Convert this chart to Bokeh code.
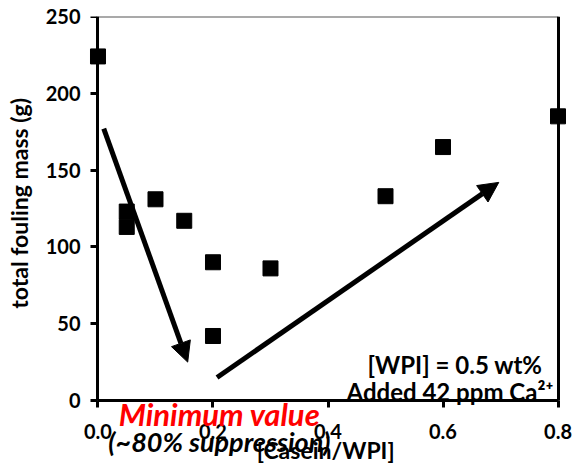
from bokeh.plotting import figure
from bokeh.models import (ColumnDataSource, Arrow, NormalHead, Label, LinearAxis,
                          FixedTicker, Range1d)
from bokeh.embed import file_html
from bokeh.resources import INLINE

# Data
ratio = [0.0, 0.05, 0.05, 0.1, 0.15, 0.2, 0.2, 0.3, 0.5, 0.6, 0.8]
mass = [224, 123, 113, 131, 117, 90, 42, 86, 133, 165, 185]

x_ticks = [0.0, 0.2, 0.4, 0.6, 0.8]
x_tick_labels = ["0.0", "0.2", "0.4", "0.6", "0.8"]
y_ticks = [0, 50, 100, 150, 200, 250]

# arrows: (x_start, y_start, x_end, y_end)
arrow_down = (0.01, 177, 0.156, 25)
arrow_up = (0.207, 15, 0.697, 142)

FONT = "Lato"
X0, X1 = 0.0, 0.8
Y0, Y1 = 0, 250
X_LEFT, X_RIGHT = -0.0252, 0.8252   # room for the end tick labels
Y_BELOW = -44.27                     # room under the x axis for the annotations

p = figure(width=572, height=468, output_backend="svg", toolbar_location=None,
           x_range=Range1d(X_LEFT, X_RIGHT), y_range=Range1d(Y_BELOW, Y1),
           x_axis_location=None, y_axis_location=None,
           min_border_left=83, min_border_right=0, min_border_top=16, min_border_bottom=0)
p.outline_line_color = None
p.grid.visible = False
p.background_fill_color = "white"
p.border_fill_color = "white"

src = ColumnDataSource(dict(x=ratio, y=mass))
p.scatter("x", "y", source=src, marker="square", size=15, fill_color="black",
          line_color="black")

def style(ax):
    ax.axis_line_width = 3
    ax.axis_line_color = "black"
    ax.major_tick_line_width = 3
    ax.major_tick_line_color = "black"
    ax.minor_tick_line_color = None
    ax.major_label_text_font = FONT
    ax.major_label_text_font_style = "bold"
    ax.major_label_text_font_size = "20px"
    ax.major_label_text_color = "black"
    ax.axis_label_text_font = FONT
    ax.axis_label_text_font_style = "bold"
    ax.axis_label_text_color = "black"

def bare(ax):
    ax.major_label_text_font_size = "0px"
    ax.major_label_text_color = None
    ax.major_label_standoff = 0
    ax.major_tick_out = 0
    ax.major_tick_in = 0

# y tick labels and axis title (left panel); leading no-break spaces lift the
# title so that it is centred on the 0-250 span rather than the whole frame
ylab = LinearAxis(ticker=FixedTicker(ticks=y_ticks),
                  axis_label="\u00a0" * 14 + "total fouling mass (g)",
                  bounds=(Y0, Y1))
style(ylab)
ylab.axis_line_color = None
ylab.major_tick_line_color = None
ylab.major_tick_out = 0
ylab.major_tick_in = 0
ylab.major_label_standoff = 3
ylab.axis_label_text_font_size = "23px"
ylab.axis_label_standoff = 10
p.add_layout(ylab, "left")

# y axis line and ticks drawn at x = 0
yline = LinearAxis(ticker=FixedTicker(ticks=y_ticks), fixed_location=X0, bounds=(Y0, Y1))
style(yline)
bare(yline)
yline.major_tick_in = 7
p.add_layout(yline, "right")

# x axis drawn at y = 0 (labels pushed below the line)
xax = LinearAxis(ticker=FixedTicker(ticks=x_ticks), fixed_location=Y0, bounds=(X0, X1))
style(xax)
xax.major_label_overrides = {t: l for t, l in zip(x_ticks, x_tick_labels)}
xax.major_tick_out = 0
xax.major_tick_in = 7
xax.major_label_standoff = -38
p.add_layout(xax, "above")

# frame: top and right edges
top = LinearAxis(ticker=FixedTicker(ticks=[]), fixed_location=Y1, bounds=(X0, X1),
                 axis_line_width=2, axis_line_color="#555555")
bare(top)
p.add_layout(top, "above")
right = LinearAxis(ticker=FixedTicker(ticks=[]), fixed_location=X1, bounds=(Y0, Y1),
                   axis_line_width=3, axis_line_color="black")
bare(right)
p.add_layout(right, "right")

for (x0, y0, x1, y1) in (arrow_down, arrow_up):
    p.add_layout(Arrow(x_start=x0, y_start=y0, x_end=x1, y_end=y1, line_width=5,
                       line_color="black",
                       end=NormalHead(size=20, fill_color="black", line_color="black")))

def lab(text, x, y, size, color="black", style_="bold", align="left", baseline="alphabetic"):
    p.add_layout(Label(x=x, y=y, text=text, text_font=FONT, text_font_size=size,
                       text_font_style=style_, text_color=color, text_align=align,
                       text_baseline=baseline))

lab("[WPI] = 0.5 wt%", 0.773, 23.5, "24px", align="right")
lab("Added 42 ppm Ca²⁺", 0.792, 6, "24px", align="right")
lab("Minimum value", 0.036, -9, "31px", color="red", style_="bold italic")
lab("(~80% suppression)", 0.018, -27, "27px", style_="bold italic")
lab("[Casein/WPI]", 0.396, -32.5, "23px", align="center", baseline="middle")

open("out.html", "w").write(file_html(p, INLINE))
